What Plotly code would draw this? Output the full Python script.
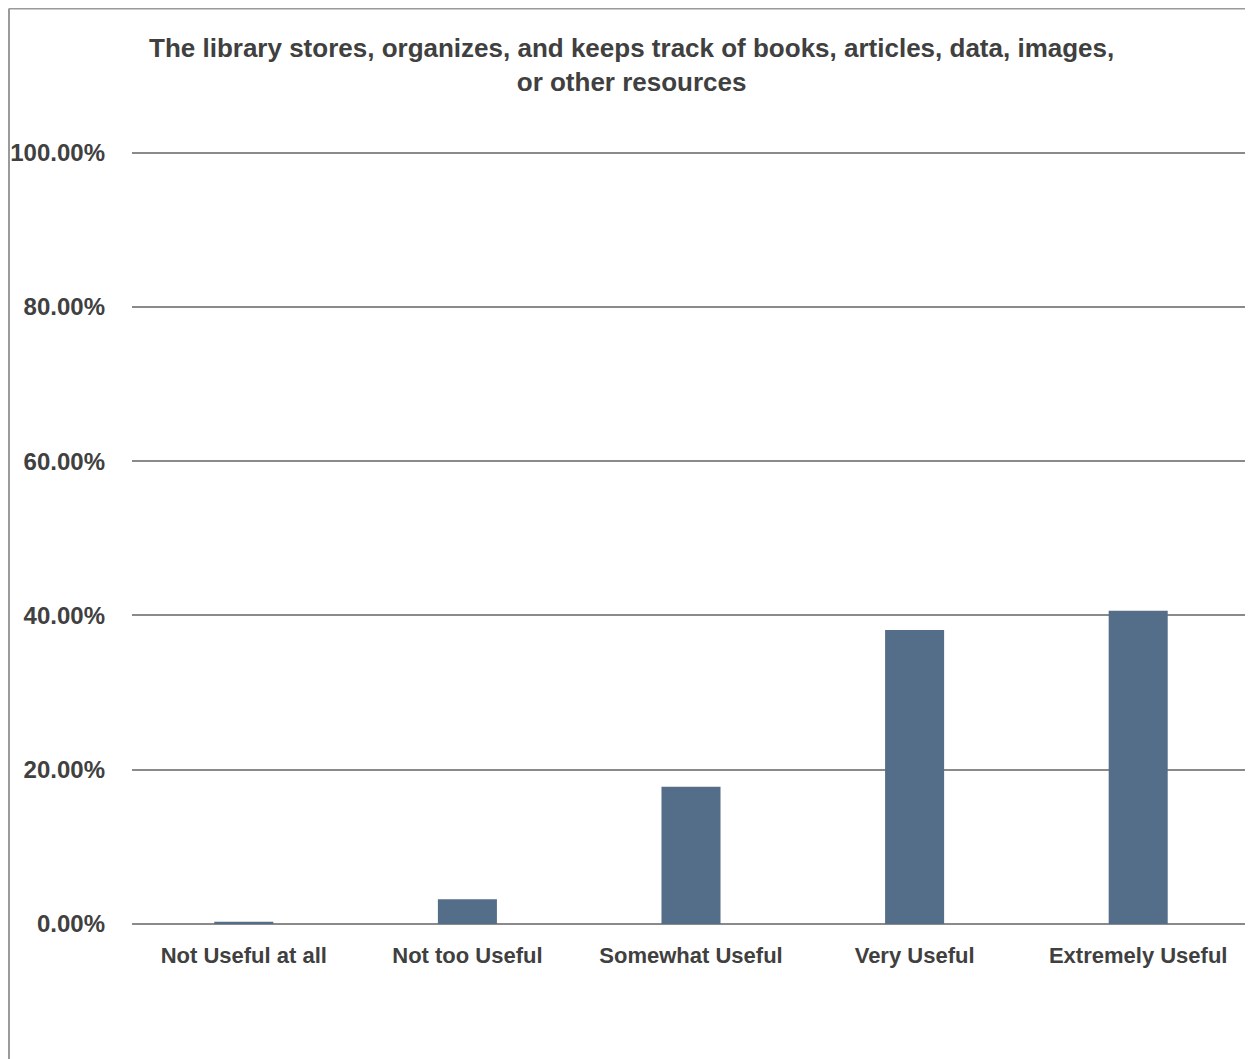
import plotly.graph_objects as go

categories = ["Not Useful at all", "Not too Useful", "Somewhat Useful", "Very Useful", "Extremely Useful"]
values = [0.003, 0.032, 0.178, 0.381, 0.406]
tick_vals = [0, 0.2, 0.4, 0.6, 0.8, 1.0]
tick_text = ["0.00%", "20.00%", "40.00%", "60.00%", "80.00%", "100.00%"]
title_text = "The library stores, organizes, and keeps track of books, articles, data, images,<br>or other resources"

FONT = "Liberation Sans, Arial, sans-serif"
TXT = "#404040"

fig = go.Figure(go.Bar(
    x=categories, y=values,
    marker=dict(color="#546E8A", line=dict(width=0)),
    width=0.264,
))

# page body has an 8px margin; compensate (all targets below in page pixels)
OFF = 8
YMAX = 1.002
W, H = 1253 - OFF, 1059 - OFF
L = 132 - OFF
R = W - (1250 - OFF)
B = H - (924 - OFF)
plot_h = (924 - 153) * YMAX
T = (924 - OFF) - plot_h
pw, ph = W - L - R, H - T - B

def py(y_px):
    return ((924 - OFF) - (y_px - OFF)) / ph

def px(x_px):
    return (x_px - 132) / pw

fig.update_layout(
    width=W, height=H,
    margin=dict(l=L, r=R, t=T, b=B, pad=0),
    paper_bgcolor="white", plot_bgcolor="white",
    showlegend=False,
    font=dict(family=FONT, color=TXT),
    xaxis=dict(
        showgrid=False, showline=False, ticks="",
        tickfont=dict(size=22, family=FONT, color=TXT, weight="bold"),
        ticklabelstandoff=16,
    ),
    yaxis=dict(
        range=[0, YMAX], tickvals=tick_vals, ticktext=tick_text,
        showgrid=True, gridcolor="#8a8a8a", gridwidth=1.5,
        zeroline=True, zerolinecolor="#8a8a8a", zerolinewidth=2,
        showline=False, ticks="",
        tickfont=dict(size=24, family=FONT, color=TXT, weight="bold"),
        ticklabelstandoff=26,
    ),
)

fig.add_annotation(
    text="<b>" + title_text + "</b>",
    xref="paper", yref="paper", x=px(631), y=py(66),
    xanchor="center", yanchor="middle", showarrow=False,
    font=dict(size=26, family=FONT, color=TXT),
)

# chart frame (left and top edges visible)
fx, fy = px(OFF + 1), py(OFF + 1)
fig.add_shape(type="line", xref="paper", yref="paper", x0=fx, x1=fx, y0=-0.3, y1=fy,
              line=dict(color="#9a9a9a", width=2))
fig.add_shape(type="line", xref="paper", yref="paper", x0=fx, x1=1.05, y0=fy, y1=fy,
              line=dict(color="#9a9a9a", width=2))

fig.write_html("out.html")
